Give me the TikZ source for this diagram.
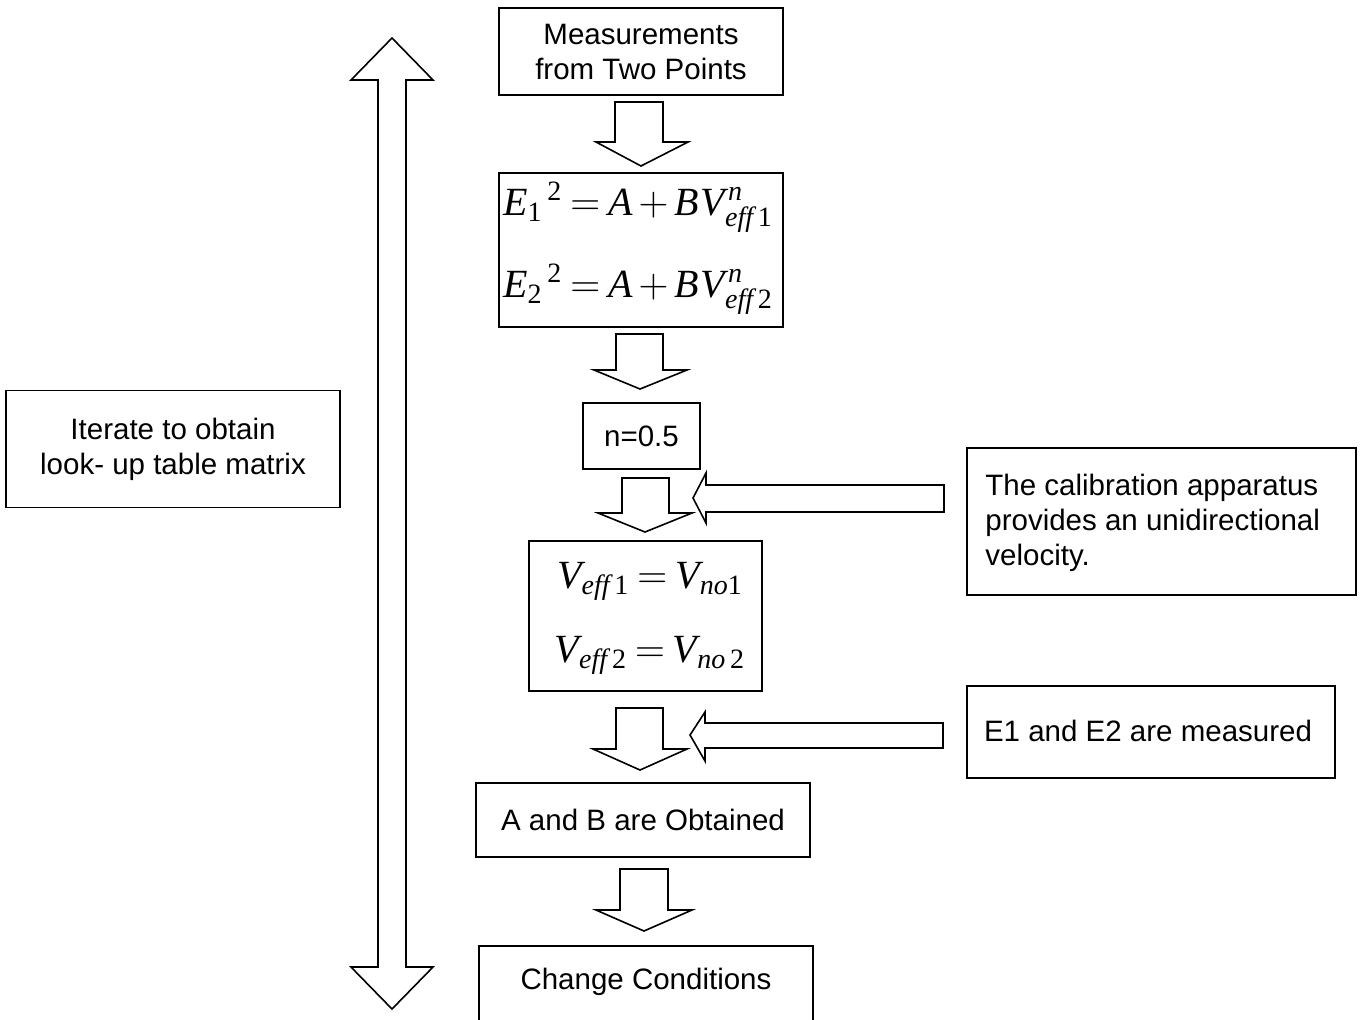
\documentclass[tikz,border=0pt]{standalone}
\usepackage{amsmath}
\usepackage[no-math]{fontspec}
\setmainfont{Liberation Sans}
\newfontfamily\tnr{Liberation Serif}
\newcommand\ti[1]{\text{\tnr\itshape #1}}
\newcommand\tu[1]{\text{\tnr #1}}
\newcommand\eqsp{\medmuskip=2.5mu\relax\thickmuskip=3.5mu\relax}
\begin{document}
\begin{tikzpicture}[x=0.5pt,y=-0.5pt,
  box/.style={draw,line width=0.8pt,inner sep=0pt,font=\fontsize{14.75}{17.5}\selectfont},
  txt/.style={inner sep=0pt,font=\fontsize{14.75}{17.5}\selectfont},
  blk/.style={draw,line width=0.8pt,line join=miter,fill=white},
  eqf/.style={inner sep=0pt,font=\fontsize{20}{24}\selectfont}]
\useasboundingbox (0,0) rectangle (1363,1019);
\clip (0,0) rectangle (1363,1019);

% boxes
\node[box,minimum width=142pt,minimum height=43.5pt,align=center] (meas) at (641,51.5) {Measurements\\from Two Points};
\node[box,minimum width=142pt,minimum height=77pt] (eq) at (641,250) {};
\node[eqf] (eq1) at (638,207) {$\eqsp\ti{E}_{\tu{1}}{}^{\,\tu{2}} = \ti{A} + \ti{B\kern1pt V}^{\kern1.5pt\ti{n}}_{\ti{eff}\,\tu{1}}$};
\node[eqf] (eq2) at (638,289) {$\eqsp\ti{E}_{\tu{2}}{}^{\,\tu{2}} = \ti{A} + \ti{B\kern1pt V}^{\kern1.5pt\ti{n}}_{\ti{eff}\,\tu{2}}$};
\node[box,minimum width=58.5pt,minimum height=33pt] (n) at (641.5,436) {n=0.5};
\node[box,minimum width=116.5pt,minimum height=75pt] (v) at (645.5,616) {};
\node[eqf] (v1) at (650,581) {$\eqsp\ti{V}_{\ti{eff}\,\tu{1}} = \ti{V}_{\ti{no}\tu{1}}$};
\node[eqf] (v2) at (650,655) {$\eqsp\ti{V}_{\ti{eff}\,\tu{2}} = \ti{V}_{\ti{no}\,\tu{2}}$};
\node[box,minimum width=167pt,minimum height=37pt] (ab) at (643,820) {A and B are Obtained};
\node[box,minimum width=167pt,minimum height=42pt] (cc) at (646,988) {};
\node[txt] (cct) at (646,982) {Change Conditions};
\node[box,minimum width=167pt,minimum height=58.5pt,align=center] (it) at (173,449) {Iterate to obtain\\look- up table matrix};
\node[box,minimum width=194.5pt,minimum height=73.5pt] (cal) at (1161.5,521.5) {};
\node[txt,anchor=west,align=left] (calt) at (985,523) {The calibration apparatus\\provides an unidirectional\\velocity.};
\node[box,minimum width=184pt,minimum height=46pt] (e12) at (1151,732) {};
\node[txt] (e12t) at (1148,731) {E1 and E2 are measured};

% down block arrows
\draw[blk] (615,102) -- (663,102) -- (663,142) -- (688,142) -- (641,166) -- (596,142) -- (615,142) -- cycle;
\draw[blk] (616,334) -- (663,334) -- (663,370) -- (687,370) -- (640,389) -- (594,370) -- (616,370) -- cycle;
\draw[blk] (622,478) -- (669,478) -- (669,513) -- (692,513) -- (645,532) -- (598,513) -- (622,513) -- cycle;
\draw[blk] (616,708) -- (663,708) -- (663,749) -- (687,749) -- (640,770) -- (593,749) -- (616,749) -- cycle;
\draw[blk] (620,869) -- (668,869) -- (668,910) -- (692,910) -- (644,931) -- (596,910) -- (620,910) -- cycle;

% left block arrows
\draw[blk] (944,485) -- (706,485) -- (706,473) -- (693,498) -- (706,523) -- (706,512) -- (944,512) -- cycle;
\draw[blk] (943,723) -- (705,723) -- (705,712) -- (690,735) -- (705,761) -- (705,748) -- (943,748) -- cycle;

% double arrow
\draw[blk] (392,38) -- (433,80) -- (406,80) -- (406,967) -- (433,967) -- (392,1009) -- (351,967) -- (378,967) -- (378,80) -- (351,80) -- cycle;
\end{tikzpicture}
\end{document}
